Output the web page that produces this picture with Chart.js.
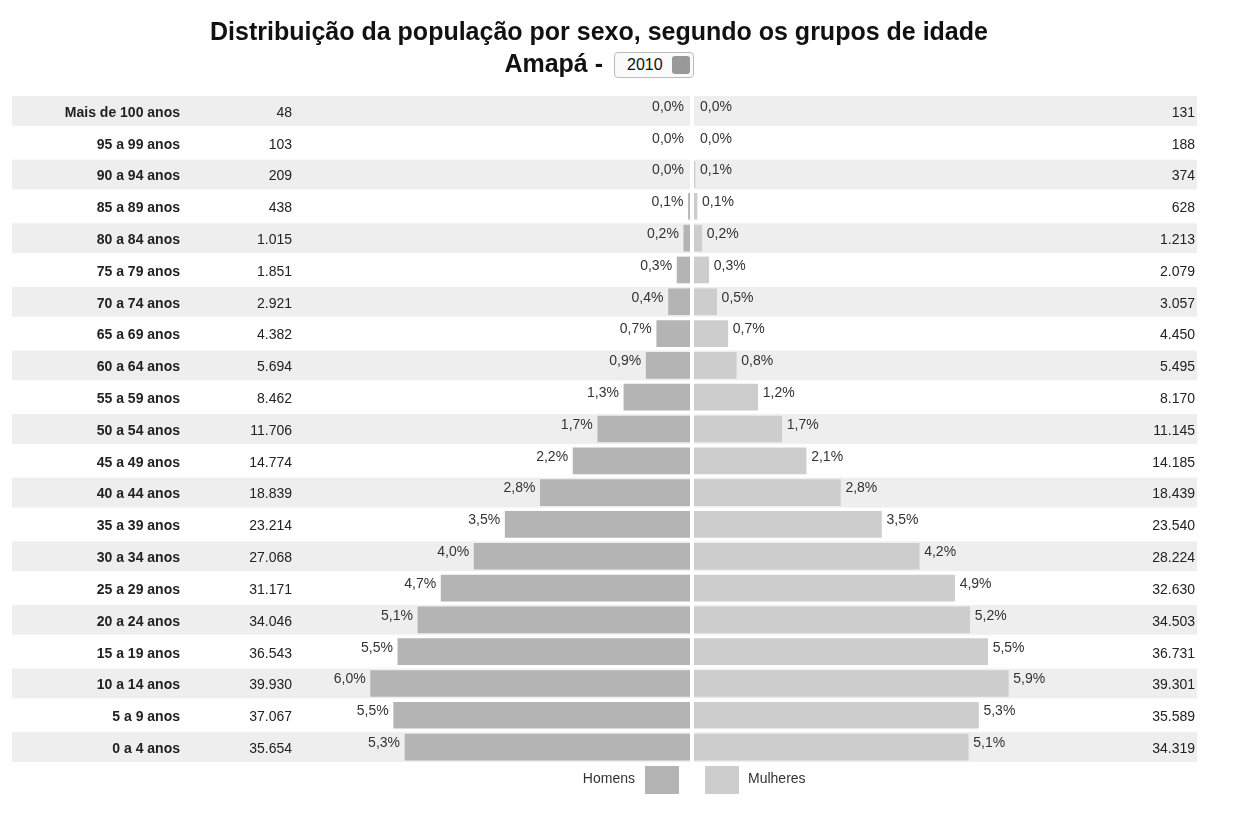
<!DOCTYPE html>
<html>
<head>
<meta charset="utf-8">
<script src="https://cdn.jsdelivr.net/npm/chart.js@4"></script>
<style>
  body { margin: 0; background: #fff; font-family: "Liberation Sans", Arial, sans-serif; }
  #wrap { position: relative; width: 1247px; height: 828px; }
  #titulo { position: absolute; top: 15px; left: 0; width: 1198px; text-align: center; font-weight: bold; font-size: 25px; color: #111; line-height: 32px; }
  #sel { display: inline-block; font-weight: normal; font-size: 16px; border: 1px solid #bbb; border-radius: 4px; padding: 1px 30px 1px 12px; margin-left: 4px; position: relative; background: #fafafa; vertical-align: 2px; line-height: 22px; }
  #sel span { position: absolute; right: 3px; top: 3px; width: 18px; height: 18px; border-radius: 3px; background: #999; }
  canvas { position: absolute; top: 0; left: 0; }
</style>
</head>
<body>
<div id="wrap">
  <canvas id="grafico" width="1247" height="828"></canvas>
  <div id="titulo">Distribuição da população por sexo, segundo os grupos de idade<br>Amapá - <span id="sel">2010<span></span></span></div>
</div>
<script>
// --- Dados ---
const grupos = ["Mais de 100 anos", "95 a 99 anos", "90 a 94 anos", "85 a 89 anos", "80 a 84 anos",
  "75 a 79 anos", "70 a 74 anos", "65 a 69 anos", "60 a 64 anos", "55 a 59 anos", "50 a 54 anos",
  "45 a 49 anos", "40 a 44 anos", "35 a 39 anos", "30 a 34 anos", "25 a 29 anos", "20 a 24 anos",
  "15 a 19 anos", "10 a 14 anos", "5 a 9 anos", "0 a 4 anos"];
const homens = [48, 103, 209, 438, 1015, 1851, 2921, 4382, 5694, 8462, 11706, 14774, 18839, 23214,
  27068, 31171, 34046, 36543, 39930, 37067, 35654];
const mulheres = [131, 188, 374, 628, 1213, 2079, 3057, 4450, 5495, 8170, 11145, 14185, 18439, 23540,
  28224, 32630, 34503, 36731, 39301, 35589, 34319];
const pctHomens = [0.0, 0.0, 0.0, 0.1, 0.2, 0.3, 0.4, 0.7, 0.9, 1.3, 1.7, 2.2, 2.8, 3.5, 4.0, 4.7, 5.1, 5.5, 6.0, 5.5, 5.3];
const pctMulheres = [0.0, 0.0, 0.1, 0.1, 0.2, 0.3, 0.5, 0.7, 0.8, 1.2, 1.7, 2.1, 2.8, 3.5, 4.2, 4.9, 5.2, 5.5, 5.9, 5.3, 5.1];

const total = homens.reduce((a, b) => a + b, 0) + mulheres.reduce((a, b) => a + b, 0);
const barHomens = homens.map(v => -v / total * 100);
const barMulheres = mulheres.map(v => v / total * 100);

const fmtNum = n => n.toLocaleString("pt-BR");
const fmtPct = p => p.toFixed(1).replace(".", ",") + "%";

const corHomens = "#b4b4b4";
const corMulheres = "#cdcdcd";

// --- Plugin: fundo das linhas, colunas e rótulos ---
const piramide = {
  id: "piramide",
  beforeDatasetsDraw(chart) {
    const { ctx, chartArea, scales } = chart;
    const y = scales.y;
    const h = (chartArea.bottom - chartArea.top) / grupos.length;
    ctx.save();
    grupos.forEach((g, i) => {
      const cy = y.getPixelForValue(i);
      ctx.fillStyle = i % 2 === 0 ? "#eeeeee" : "#ffffff";
      ctx.fillRect(12, cy - h / 2 + 1, 1185, h - 2);
    });
    ctx.restore();
  },
  afterDatasetsDraw(chart) {
    const { ctx, chartArea, scales } = chart;
    const x = scales.x, y = scales.y;
    const cx = x.getPixelForValue(0);
    ctx.save();
    ctx.fillStyle = "#fff";
    ctx.fillRect(cx - 2, chartArea.top, 4, chartArea.bottom - chartArea.top);
    ctx.textBaseline = "middle";
    grupos.forEach((g, i) => {
      const cy = y.getPixelForValue(i);
      ctx.fillStyle = "#222";
      ctx.font = "bold 14px 'Liberation Sans', Arial, sans-serif";
      ctx.textAlign = "right";
      ctx.fillText(g, 180, cy + 2);
      ctx.font = "14px 'Liberation Sans', Arial, sans-serif";
      ctx.fillText(fmtNum(homens[i]), 292, cy + 2);
      ctx.fillText(fmtNum(mulheres[i]), 1195, cy + 2);
      ctx.fillStyle = "#333";
      ctx.textAlign = "right";
      ctx.fillText(fmtPct(pctHomens[i]), Math.min(x.getPixelForValue(barHomens[i]), cx - 3) - 5, cy - 4);
      ctx.textAlign = "left";
      ctx.fillText(fmtPct(pctMulheres[i]), Math.max(x.getPixelForValue(barMulheres[i]), cx + 3) + 5, cy - 4);
    });
    // legenda
    const ly = chartArea.bottom + 16;
    ctx.fillStyle = corHomens;
    ctx.fillRect(645, ly - 13, 34, 28);
    ctx.fillStyle = corMulheres;
    ctx.fillRect(705, ly - 13, 34, 28);
    ctx.fillStyle = "#333";
    ctx.font = "14px 'Liberation Sans', Arial, sans-serif";
    ctx.textAlign = "right";
    ctx.fillText("Homens", 635, ly);
    ctx.textAlign = "left";
    ctx.fillText("Mulheres", 748, ly);
    ctx.restore();
  }
};

new Chart(document.getElementById("grafico"), {
  type: "bar",
  data: {
    labels: grupos,
    datasets: [
      { label: "Homens", data: barHomens, backgroundColor: corHomens, barThickness: 26 },
      { label: "Mulheres", data: barMulheres, backgroundColor: corMulheres, barThickness: 26 }
    ]
  },
  options: {
    indexAxis: "y",
    responsive: false,
    animation: false,
    layout: { padding: { left: 297, right: 160, top: 95, bottom: 65 } },
    plugins: { legend: { display: false }, tooltip: { enabled: false }, title: { display: false } },
    scales: {
      x: { display: false, min: -7.33, max: 7.33 },
      y: { display: false, stacked: true }
    }
  },
  plugins: [piramide]
});
</script>
</body>
</html>
